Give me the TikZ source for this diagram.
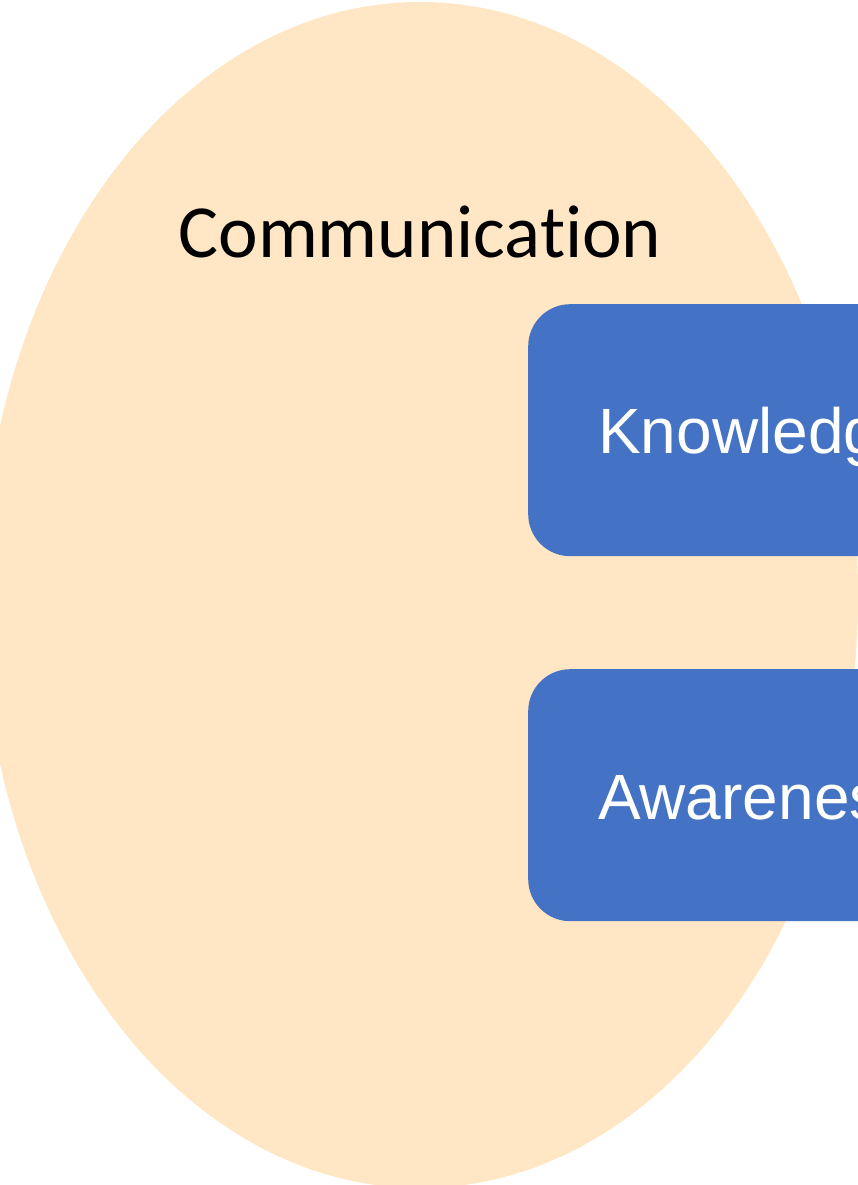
\documentclass[tikz,border=0pt]{standalone}
\usepackage{fontspec}
\setmainfont{Carlito}[Ligatures=NoCommon]
\newfontfamily\boxfont{Liberation Sans}
\usetikzlibrary{shapes.geometric}
\definecolor{ovalfill}{HTML}{FFE6C4}
\definecolor{boxblue}{HTML}{4472C4}
\tikzset{
  oval/.style={ellipse, fill=ovalfill, draw=none, inner sep=0pt},
  bluebox/.style={rectangle, rounded corners=42pt, fill=boxblue, draw=none,
    minimum width=700pt, minimum height=252pt, anchor=north west, inner sep=0pt},
  boxlabel/.style={text=white, font=\boxfont\fontsize{64}{70}\selectfont,
    anchor=base west, inner sep=0pt},
  ovallabel/.style={text=black, font=\fontsize{75}{82}\selectfont,
    anchor=base, inner sep=0pt}
}
\begin{document}
\begin{tikzpicture}[x=1pt,y=1pt]
  \useasboundingbox (0,0) rectangle (858,1185);
  \clip (0,0) rectangle (858,1185);
  % the large oval
  \node (comm) [oval, minimum width=876pt, minimum height=1186pt] at (420,590) {};
  \node (commtext) [ovallabel] at (420,927) {Communication};
  % the two rounded boxes
  \node (know) [bluebox] at (528,881) {};
  \node (knowtext) [boxlabel] at (598,731) {Knowledge};
  \node (aware) [bluebox] at (528,516) {};
  \node (awaretext) [boxlabel] at (598,365) {Awareness};
\end{tikzpicture}
\end{document}
